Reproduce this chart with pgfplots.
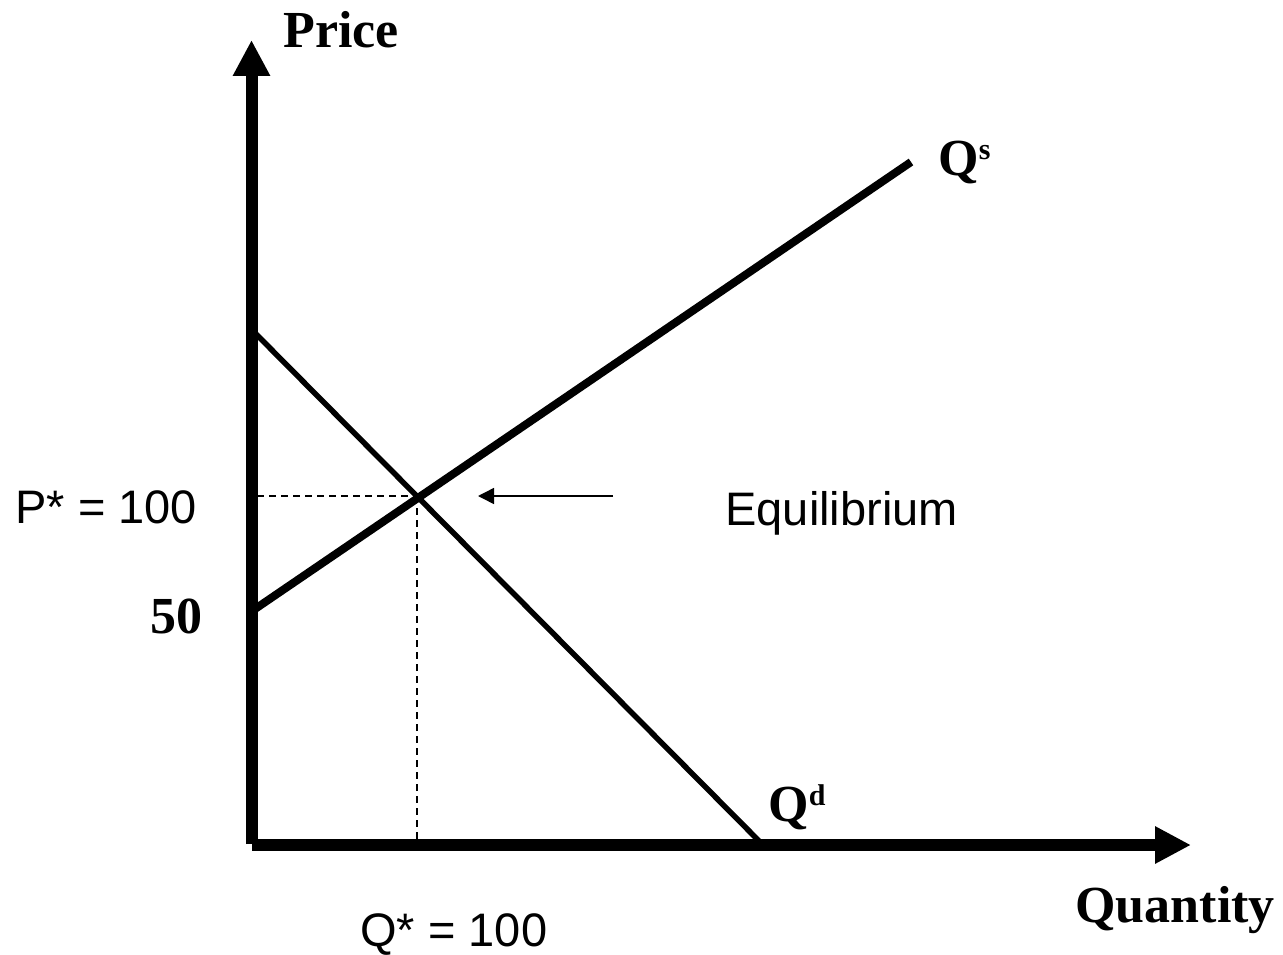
\documentclass[border=0pt]{standalone}
\usepackage{fontspec}
\setmainfont{Liberation Serif}
\newfontfamily\sansf{Liberation Sans}
\usepackage{pgfplots}
\pgfplotsset{compat=1.18}
\usetikzlibrary{arrows.meta}
\newcommand{\bigb}{\fontsize{26}{30}\selectfont\bfseries}
\newcommand{\bigs}{\sansf\fontsize{23.5}{28}\selectfont}
\begin{document}
\begin{tikzpicture}
\begin{axis}[
  scale only axis, width=641.5pt, height=475pt,
  xmin=0, xmax=1283, ymin=0, ymax=950,
  hide axis, clip=false,
]
% dashed guides
\addplot[black, line width=0.75pt, dash pattern=on 3.5pt off 2.5pt] coordinates {(257,454) (417,454)};
\addplot[black, line width=0.75pt, dash pattern=on 3.5pt off 2.5pt] coordinates {(417,454) (417,105)};
% supply
\addplot[black, line width=4pt] coordinates {(255,341) (911,788)};
% demand
\addplot[black, line width=2.75pt] coordinates {(255,617) (764,104)};
% axes
\addplot[black, line width=6pt, -{Triangle[length=18pt,width=17.5pt]}] coordinates {(251.5,106) (251.5,910)};
\addplot[black, line width=6pt, -{Triangle[length=18pt,width=17.5pt]}] coordinates {(252,105) (1191,105)};
% equilibrium arrow
\addplot[black, line width=0.75pt, -{Triangle[length=8pt,width=8pt]}] coordinates {(613,454) (478,454)};
% labels
\node[anchor=base west, inner sep=0pt] at (axis cs:283,902) {\bigb Price};
\node[anchor=base west, inner sep=0pt] at (axis cs:1075,28) {\bigb Quantity};
\node[anchor=base west, inner sep=0pt] at (axis cs:938,774) {\bigb Q\raisebox{8pt}{\fontsize{15}{15}\selectfont s}};
\node[anchor=base west, inner sep=0pt] at (axis cs:768,129) {\bigb Q\raisebox{8pt}{\fontsize{15}{15}\selectfont d}};
\node[anchor=base west, inner sep=0pt] at (axis cs:150,317) {\bigb 50};
\node[anchor=base west, inner sep=0pt] at (axis cs:15,427) {\bigs P* = 100};
\node[anchor=base west, inner sep=0pt] at (axis cs:725,425) {\bigs Equilibrium};
\node[anchor=base west, inner sep=0pt] at (axis cs:360,4) {\bigs Q* = 100};
\end{axis}
\path (current axis.south west) rectangle (current axis.north east);
\end{tikzpicture}
\end{document}
